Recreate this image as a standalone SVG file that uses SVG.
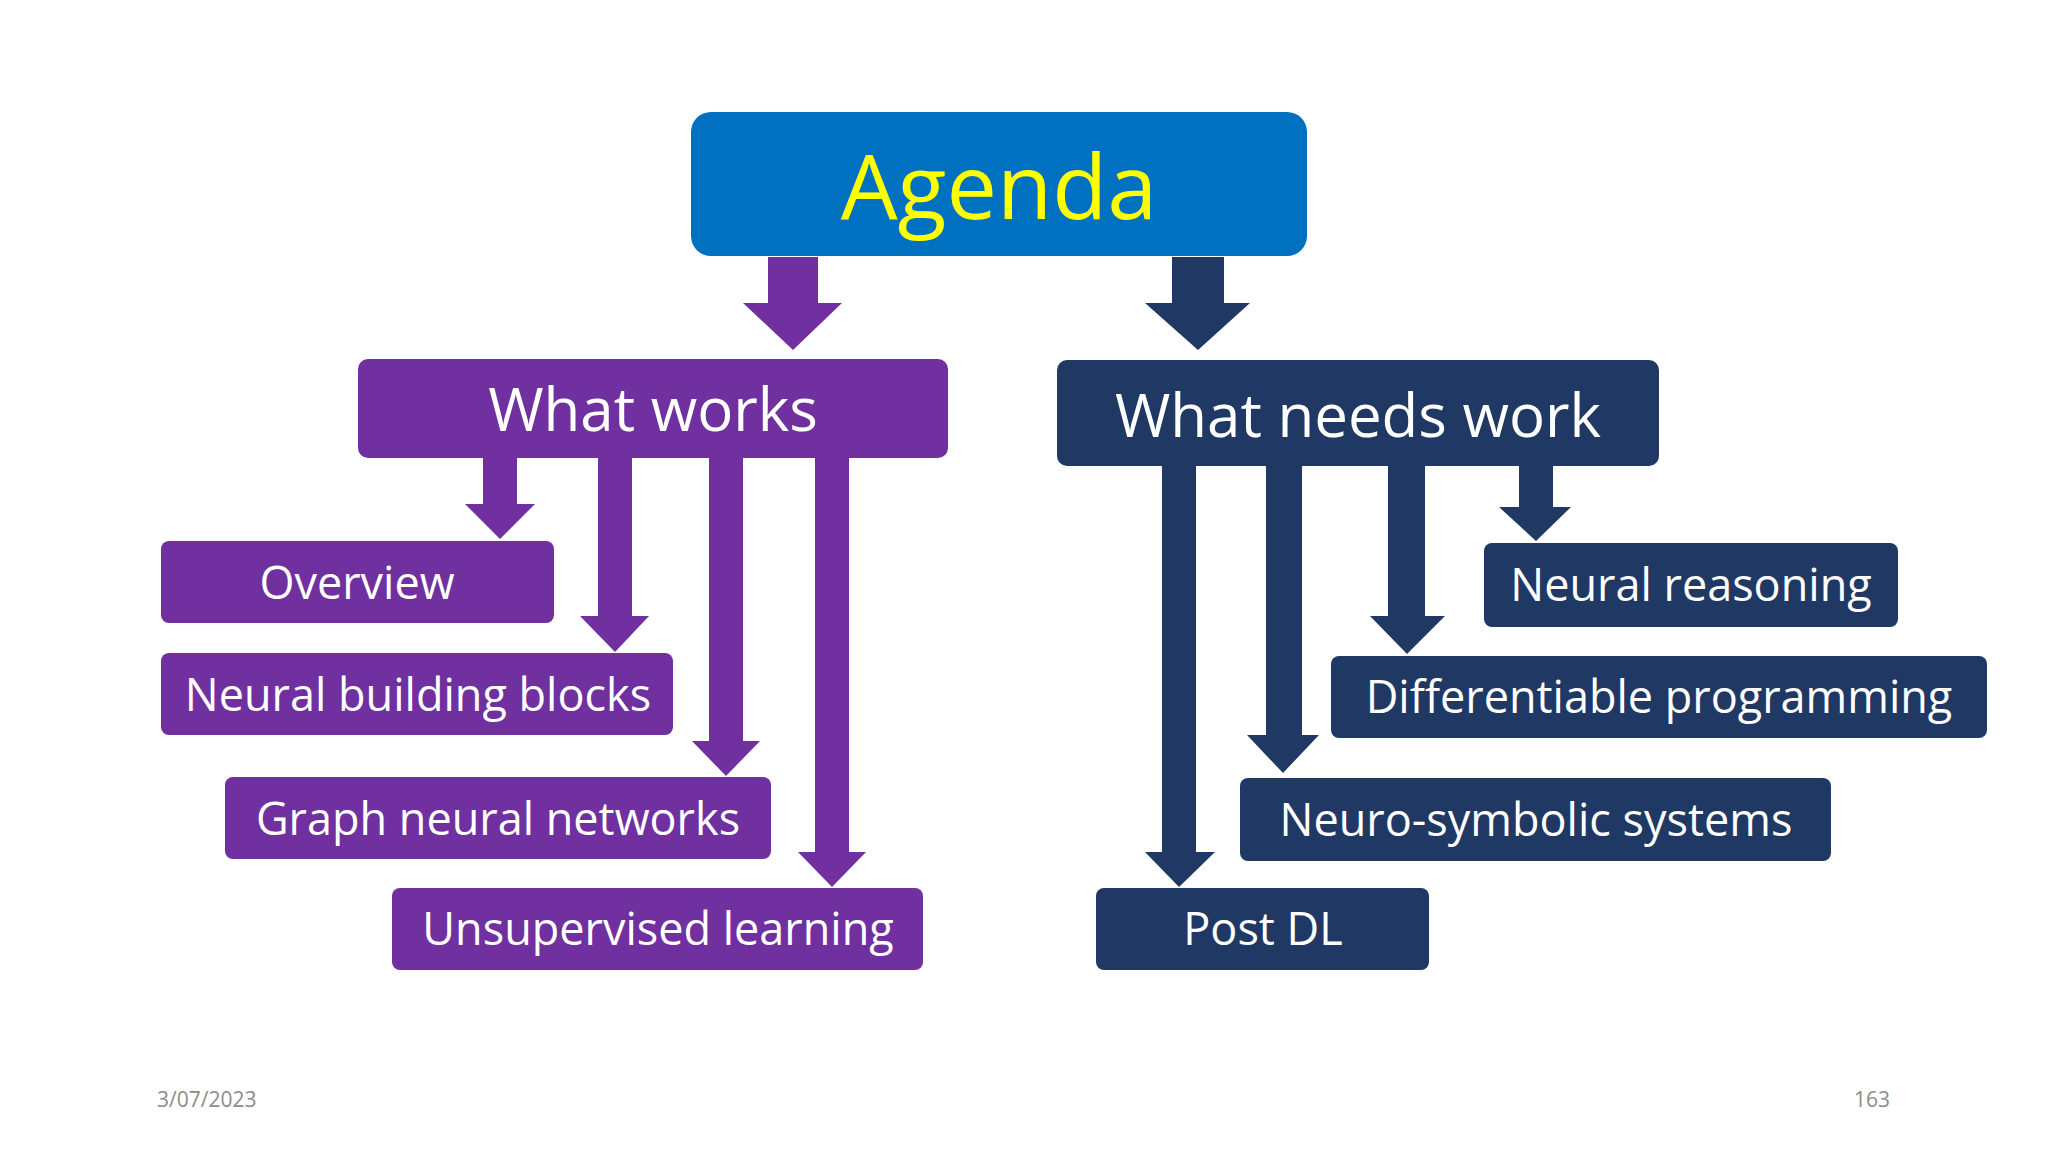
<svg xmlns="http://www.w3.org/2000/svg" width="2048" height="1152" viewBox="0 0 2048 1152">
<style>
.p{fill:#7030A0}.n{fill:#203864}
text{font-family:"Open Sans","Noto Sans",sans-serif;fill:#fff;text-anchor:middle}
.t{font-size:60px}.c{font-size:45px}.f{font-size:21px;fill:#8c8c8c}
</style>
<rect width="2048" height="1152" fill="#fff"/>
<g id="connectors">
<polygon class="p" points="768,257 818,257 818,303 842,303 793,350 743,303 768,303"/>
<polygon class="n" points="1172,257 1224,257 1224,303 1250,303 1198,350 1145,303 1172,303"/>
<polygon class="p" points="483,458 517,458 517,504 535,504 500,539 465,504 483,504"/>
<polygon class="p" points="598,458 632,458 632,616 649,616 615,652 580,616 598,616"/>
<polygon class="p" points="709,458 743,458 743,741 760,741 726,776 692,741 709,741"/>
<polygon class="p" points="815,458 849,458 849,852 866,852 832,887 798,852 815,852"/>
<polygon class="n" points="1519,466 1553,466 1553,507 1571,507 1536,541 1499,507 1519,507"/>
<polygon class="n" points="1388,466 1425,466 1425,616 1445,616 1407,654 1370,616 1388,616"/>
<polygon class="n" points="1266,466 1302,466 1302,735 1319,735 1283,773 1247,735 1266,735"/>
<polygon class="n" points="1162,466 1196,466 1196,852 1215,852 1179,887 1145,852 1162,852"/>
</g>
<g id="agenda"><rect x="691" y="112" width="616" height="144" rx="20" fill="#0070C0"/><text x="999" y="219" style="font-size:90px;fill:#FFFF00">Agenda</text></g>
<g id="what-works"><rect class="p" x="358" y="359" width="590" height="99" rx="10"/><text class="t" x="653" y="431">What works</text></g>
<g id="what-needs-work"><rect class="n" x="1057" y="360" width="602" height="106" rx="10"/><text class="t" x="1358" y="437">What needs work</text></g>
<g id="overview"><rect class="p" x="161" y="541" width="393" height="82" rx="8"/><text class="c" x="357" y="599">Overview</text></g>
<g id="neural-building-blocks"><rect class="p" x="161" y="653" width="512" height="82" rx="8"/><text class="c" x="418" y="711">Neural building blocks</text></g>
<g id="graph-neural-networks"><rect class="p" x="225" y="777" width="546" height="82" rx="8"/><text class="c" x="498" y="835">Graph neural networks</text></g>
<g id="unsupervised-learning"><rect class="p" x="392" y="888" width="531" height="82" rx="8"/><text class="c" x="658" y="945">Unsupervised learning</text></g>
<g id="neural-reasoning"><rect class="n" x="1484" y="543" width="414" height="84" rx="8"/><text class="c" x="1691" y="601">Neural reasoning</text></g>
<g id="differentiable-programming"><rect class="n" x="1331" y="656" width="656" height="82" rx="8"/><text class="c" x="1659" y="713">Differentiable programming</text></g>
<g id="neuro-symbolic-systems"><rect class="n" x="1240" y="778" width="591" height="83" rx="8"/><text class="c" x="1536" y="836">Neuro-symbolic systems</text></g>
<g id="post-dl"><rect class="n" x="1096" y="888" width="333" height="82" rx="8"/><text class="c" x="1263" y="945">Post DL</text></g>
<text class="f" x="157" y="1107" style="text-anchor:start">3/07/2023</text>
<text class="f" x="1890" y="1107" style="text-anchor:end">163</text>
</svg>
